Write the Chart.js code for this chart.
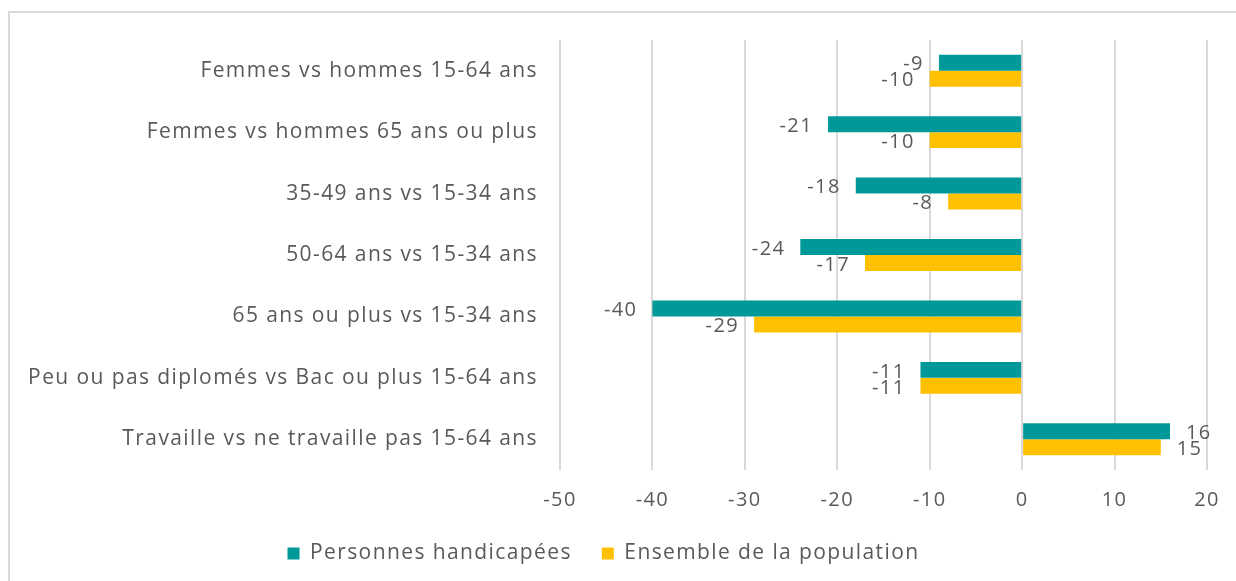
<!DOCTYPE html>
<html>
<head>
<meta charset="utf-8">
<script src="https://cdn.jsdelivr.net/npm/chart.js@4/dist/chart.umd.min.js"></script>
<style>
  html, body { margin: 0; padding: 0; background: #fff; }
  #wrap { position: relative; width: 1236px; height: 581px; overflow: hidden; }
  #frame { position: absolute; left: 8px; top: 11px; width: 1300px; height: 700px; border: 2px solid #d9d9d9; box-sizing: border-box; }
  canvas { position: absolute; left: 0; top: 0; }
</style>
</head>
<body>
<div id="wrap">
  <div id="frame"></div>
  <canvas id="chart" width="1236" height="581"></canvas>
</div>
<script>
const categories = [
  "Femmes vs hommes 15-64 ans",
  "Femmes vs hommes 65 ans ou plus",
  "35-49 ans vs 15-34 ans",
  "50-64 ans vs 15-34 ans",
  "65 ans ou plus vs 15-34 ans",
  "Peu ou pas diplomés vs Bac ou plus 15-64 ans",
  "Travaille vs ne travaille pas 15-64 ans"
];
const handicapees = [-9, -21, -18, -24, -40, -11, 16];
const ensemble = [-10, -10, -8, -17, -29, -11, 15];
const seriesNames = ["Personnes handicapées", "Ensemble de la population"];

const FONT = "'Open Sans', Lato, sans-serif";
const TEXT = "#595959";
const SPACING = "1.4px";

// the reference font is wider, so spread the letters a little.
// canvas resizes wipe the context state, so set it again before each layout and draw
const letterSpread = {
  id: "letterSpread",
  beforeUpdate(chart) { chart.ctx.letterSpacing = SPACING; },
  beforeLayout(chart) { chart.ctx.letterSpacing = SPACING; },
  beforeDraw(chart) { chart.ctx.letterSpacing = SPACING; }
};

const valueLabels = {
  id: "valueLabels",
  afterDatasetsDraw(chart) {
    const ctx = chart.ctx;
    ctx.save();
    ctx.font = `20px ${FONT}`;
    ctx.fillStyle = TEXT;
    ctx.textBaseline = "middle";
    chart.data.datasets.forEach((ds, i) => {
      const meta = chart.getDatasetMeta(i);
      meta.data.forEach((bar, j) => {
        const v = ds.data[j];
        if (v < 0) {
          ctx.textAlign = "right";
          ctx.fillText(String(v), bar.x - 15, bar.y + 2);
        } else {
          ctx.textAlign = "left";
          ctx.fillText(String(v), bar.x + 16, bar.y + 2);
        }
      });
    });
    ctx.restore();
  }
};

new Chart(document.getElementById("chart"), {
  type: "bar",
  data: {
    labels: categories,
    datasets: [
      {
        label: seriesNames[0],
        data: handicapees,
        backgroundColor: "#009999",
        categoryPercentage: 0.52,
        barPercentage: 1
      },
      {
        label: seriesNames[1],
        data: ensemble,
        backgroundColor: "#FFC000",
        categoryPercentage: 0.52,
        barPercentage: 1
      }
    ]
  },
  options: {
    indexAxis: "y",
    responsive: false,
    animation: false,
    layout: { padding: { left: 0, right: 29, top: 40, bottom: 7 } },
    scales: {
      x: {
        min: -50,
        max: 20,
        ticks: { stepSize: 10, color: TEXT, font: { family: FONT, size: 20 }, padding: 18 },
        grid: { color: "#d9d9d9", lineWidth: 2, drawTicks: false },
        border: { display: false },
        afterFit(scale) {
          scale.height = 43;
          scale.paddingLeft = 0;
          scale.paddingRight = 0;
        }
      },
      y: {
        ticks: { color: TEXT, font: { family: FONT, size: 21 }, padding: 22 },
        grid: { display: false, drawTicks: false },
        border: { display: false },
        afterFit(scale) { scale.width = 560; }
      }
    },
    plugins: {
      legend: {
        position: "bottom",
        labels: {
          color: TEXT,
          font: { family: FONT, size: 21 },
          boxWidth: 12,
          boxHeight: 12,
          padding: 30
        }
      },
      tooltip: { enabled: false }
    }
  },
  plugins: [letterSpread, valueLabels]
});
</script>
</body>
</html>
